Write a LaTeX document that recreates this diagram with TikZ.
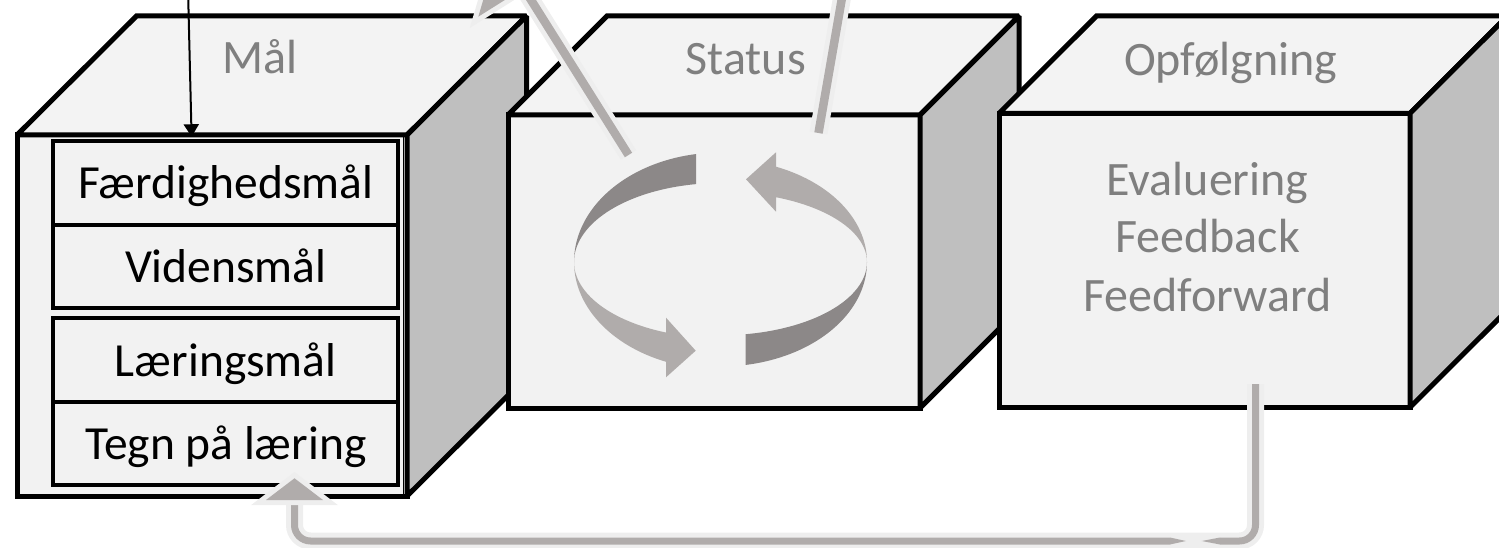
\documentclass[tikz,border=0pt]{standalone}
\usepackage{fontspec}
\setmainfont{Carlito}
\usetikzlibrary{arrows.meta}
\definecolor{facecol}{HTML}{F2F2F2}
\definecolor{topcol}{HTML}{F3F3F3}
\definecolor{sidecol}{HTML}{BFBFBF}
\definecolor{txtgray}{HTML}{7F7F7F}
\definecolor{ringdark}{HTML}{8C8888}
\definecolor{ringlight}{HTML}{B0ACAB}
\definecolor{linegray}{HTML}{B0ACAB}
\definecolor{halocol}{HTML}{EEEEEE}
\begin{document}
\begin{tikzpicture}[x=1pt,y=-1pt,
  face/.style={fill=facecol, draw=black, line width=5pt, line join=miter, miter limit=2},
  topface/.style={face, fill=topcol},
  sideface/.style={face, fill=sidecol},
  frontbox/.style={face, rectangle, inner sep=0pt, outer sep=0pt},
  rowbox/.style={draw=black, fill=facecol, line width=4pt, rectangle, inner sep=0pt, outer sep=0pt,
    minimum width=345pt, minimum height=83.5pt, text height=40pt, text depth=8pt,
    font=\fontsize{47.5}{56}\selectfont, text=black},
  hdr/.style={anchor=base, inner sep=0pt, font=\fontsize{48}{57}\selectfont, text=txtgray},
  halo/.style={draw=halocol, line width=17pt},
  halothick/.style={draw=halocol, line width=18pt},
  gline/.style={draw=linegray, line width=7pt},
  glinethick/.style={draw=linegray, line width=8.5pt},
  headfill/.style={fill=linegray, preaction={draw=halocol, line width=10pt, line join=miter}},
]
\useasboundingbox (0,0) rectangle (1499,548);

% ---------- cube 1 : Mål
\node[frontbox, minimum width=390pt, minimum height=361pt] (c1) at (212,315.5) {};
\draw[topface] (c1.north west) -- ++(119.5,-119) -- ++(390,0) -- (c1.north east) -- cycle;
\draw[sideface] (c1.north east) -- ++(119.5,-119) -- ++(0,361) -- (c1.south east) -- cycle;
\draw[line width=1.5pt] (403.3,137) -- (403.3,494);
\node[rowbox] (r1) at (225.8,183) {Færdighedsmål};
\node[rowbox] (r2) at (225.8,266.5) {Vidensmål};
\node[rowbox] (r3) at (225.8,360) {Læringsmål};
\node[rowbox] (r4) at (225.8,443.5) {Tegn på læring};
\node[hdr] (h1) at (260,73.3) {Mål};

% ---------- cube 2 : Status
\node[frontbox, minimum width=412pt, minimum height=293pt] (c2) at (714,261.5) {};
\draw[topface] (c2.north west) -- ++(99,-99) -- ++(412,0) -- (c2.north east) -- cycle;
\draw[sideface] (c2.north east) -- ++(99,-99) -- ++(0,293) -- (c2.south east) -- cycle;
\node[hdr] (h2) at (745.8,75) {Status};

% ---------- cube 3 : Opfølgning
\node[frontbox, minimum width=411pt, minimum height=294pt] (c3) at (1204.5,260.3) {};
\draw[topface] (c3.north west) -- ++(97.5,-97.3) -- ++(411,0) -- (c3.north east) -- cycle;
\draw[sideface] (c3.north east) -- ++(97.5,-97.3) -- ++(0,294) -- (c3.south east) -- cycle;
\node[hdr] (h3) at (1230.8,75.5) {Opfølgning};
\node[hdr] (e1) at (1207.5,196) {Evaluering};
\node[hdr] (e2) at (1207.5,252.3) {Feedback};
\node[hdr] (e3) at (1207.5,311.7) {Feedforward};

% ---------- circular arrows
\fill[ringdark] plot[domain=260.4:180, samples=40] ({720.5+146.5*cos(\x)},{262+109.5*sin(\x)})
  -- plot[domain=180:260.4, samples=40] ({720.5+146.5*cos(\x)},{262+79*sin(\x)}) -- cycle;
\fill[ringlight] plot[domain=180:111.84, samples=40] ({720.5+146.5*cos(\x)},{262+76*sin(\x)})
  -- (666,317.7) -- (695.7,350.7) -- (666,377.3)
  -- plot[domain=111.84:180, samples=40] ({720.5+146.5*cos(\x)},{262+107.5*sin(\x)}) -- cycle;
\fill[ringlight] plot[domain=0:-67.74, samples=40] ({720.5+146.5*cos(\x)},{262+70*sin(\x)})
  -- (776,211.7) -- (746,179.3) -- (776,152.3)
  -- plot[domain=-67.74:0, samples=40] ({720.5+146.5*cos(\x)},{262+103*sin(\x)}) -- cycle;
\fill[ringdark] plot[domain=0:80.1, samples=40] ({720.5+146.5*cos(\x)},{262+104.5*sin(\x)})
  -- plot[domain=80.1:0, samples=40] ({720.5+146.5*cos(\x)},{262+73.3*sin(\x)}) -- cycle;

% ---------- gray connectors leaving the cycle
\coordinate (l1s) at (628.5,155);
\coordinate (l1e) at (523.6,-11.8);
\draw[halothick] (l1s) -- (l1e);
\draw[glinethick] (l1s) -- (l1e);
\fill[headfill] (478.3,16.7) -- (498.4,-51.8) -- (568.9,-40.3) -- cycle;

\coordinate (l2s) at (818.5,133);
\coordinate (l2e) at (846.3,-27);
\draw[halothick] (l2s) -- (l2e);
\draw[glinethick] (l2s) -- (l2e);

% ---------- bottom feedback connector
\coordinate (aStart) at (1255.5,384);
\coordinate (aEnd) at (1220,541);
\coordinate (bStart) at (1170,541);
\coordinate (bHead) at (294.5,500);
\draw[halo, rounded corners=16pt] (aStart) |- (bStart) -| (bHead);
\draw[gline, rounded corners=16pt] (aStart) |- (aEnd);
\fill[linegray] (1220,537.5) -- (1201.7,541) -- (1220,544.5) -- cycle;
\draw[gline, rounded corners=16pt] (bStart) -| (bHead);
\fill[linegray] (1170,537.5) -- (1186,541) -- (1170,544.5) -- cycle;
\fill[headfill] (266,500) -- (294.5,478.3) -- (323,500) -- cycle;

% ---------- black arrow from above
\coordinate (topsrc) at (188.2,-3);
\draw[line width=2pt, -{Triangle[length=12.5pt,width=15pt]}, shorten >=4.5pt]
  (topsrc) -- ([xshift=138.4pt]r1.north west);
\end{tikzpicture}
\end{document}
